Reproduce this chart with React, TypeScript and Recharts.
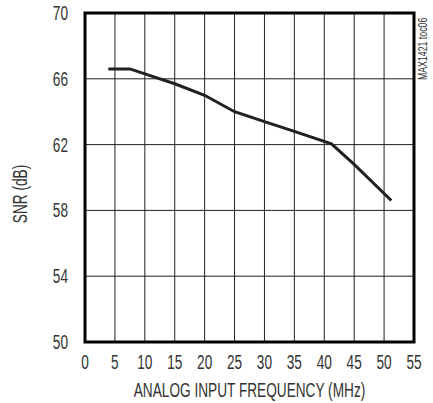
import { LineChart, Line, XAxis, YAxis, CartesianGrid, ReferenceArea } from 'recharts';

// SNR vs analog input frequency
const freqMHz = [3.9, 7.5, 10, 15, 20, 25, 30, 35, 41.2, 45, 51.2];
const snrDb = [66.6, 66.6, 66.3, 65.7, 65.0, 64.0, 63.4, 62.8, 62.05, 60.8, 58.6];

const xTicks = [0, 5, 10, 15, 20, 25, 30, 35, 40, 45, 50, 55];
const yTicks = [50, 54, 58, 62, 66, 70];

const FONT = '"Liberation Sans", Arial, sans-serif';
const INK = '#231f20';
const TEXT = '#333';
const SIZE = 19.5;
const SQUEEZE = 0.7; // fake a condensed face

const XTick = ({ x, y, payload }: any) => (
    <text
        transform={`translate(${x},${y + 27}) scale(${SQUEEZE},1)`}
        textAnchor="middle"
        fill={TEXT}
        fontSize={SIZE}
        fontFamily={FONT}
    >
        {payload.value}
    </text>
);

const YTick = ({ x, y, payload }: any) => (
    <text
        transform={`translate(${x - 17},${y + 7}) scale(${SQUEEZE},1)`}
        textAnchor="end"
        fill={TEXT}
        fontSize={SIZE}
        fontFamily={FONT}
    >
        {payload.value}
    </text>
);

const XLabel = ({ viewBox }: any) => (
    <text
        transform={`translate(${viewBox.x + viewBox.width / 2},${viewBox.y + 55}) scale(${SQUEEZE},1)`}
        textAnchor="middle"
        fill={TEXT}
        fontSize={SIZE}
        fontFamily={FONT}
    >
        ANALOG INPUT FREQUENCY (MHz)
    </text>
);

const YLabel = () => (
    <text
        transform={`translate(27,194) rotate(-90) scale(${SQUEEZE},1)`}
        textAnchor="middle"
        fill={TEXT}
        fontSize={SIZE}
        fontFamily={FONT}
    >
        SNR (dB)
    </text>
);

export default function App() {
    const data = freqMHz.map((f, i) => ({ freq: f, snr: snrDb[i] }));

    return (
        <div style={{ position: 'absolute', left: 0, top: 0, width: 433, height: 403, background: '#fff', fontFamily: FONT }}>
            <LineChart width={433} height={403} data={data} margin={{ top: 13, right: 19, bottom: 0, left: 0 }}>
                <CartesianGrid stroke={INK} strokeWidth={1} />
                <XAxis
                    dataKey="freq"
                    type="number"
                    domain={[0, 55]}
                    ticks={xTicks}
                    axisLine={false}
                    tickLine={false}
                    tickSize={0}
                    tickMargin={0}
                    height={61}
                    tick={<XTick />}
                    label={XLabel}
                />
                <YAxis
                    type="number"
                    domain={[50, 70]}
                    ticks={yTicks}
                    axisLine={false}
                    tickLine={false}
                    tickSize={0}
                    tickMargin={0}
                    width={85}
                    tick={<YTick />}
                    label={YLabel}
                />
                <ReferenceArea x1={0} x2={55} y1={50} y2={70} fill="none" fillOpacity={0} stroke="#000" strokeWidth={3} ifOverflow="visible" />
                <Line
                    type="linear"
                    dataKey="snr"
                    stroke={INK}
                    strokeWidth={3}
                    dot={false}
                    isAnimationActive={false}
                />
            </LineChart>
            <div
                style={{
                    position: 'absolute',
                    left: 0,
                    top: 0,
                    transformOrigin: '0 0',
                    transform: 'translate(418px, 80px) rotate(-90deg) scale(0.7, 1)',
                    fontSize: 12.5,
                    lineHeight: '10px',
                    color: TEXT,
                    whiteSpace: 'nowrap',
                }}
            >
                MAX1421 toc06
            </div>
        </div>
    );
}
